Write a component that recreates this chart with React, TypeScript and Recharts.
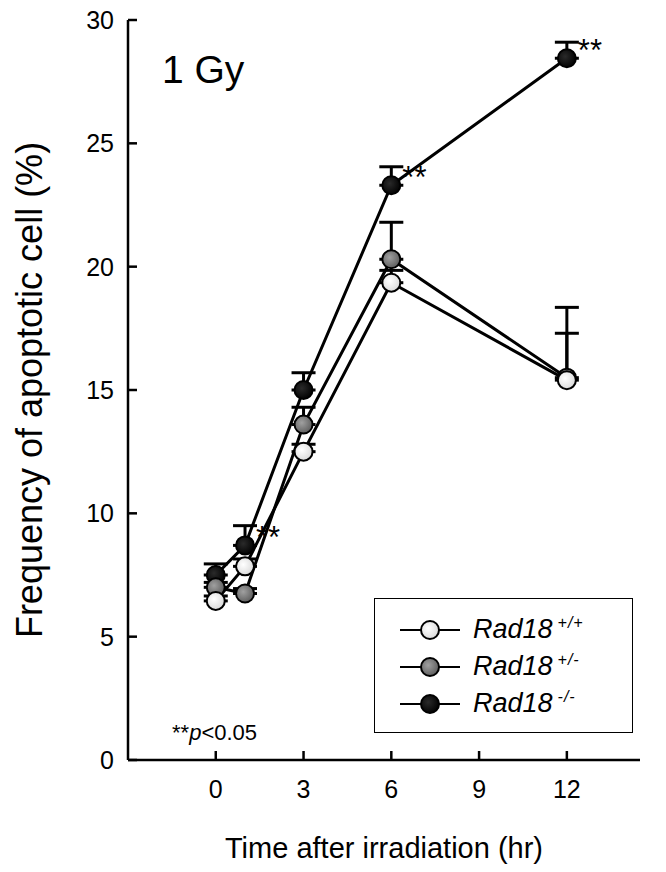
import { LineChart, Line, XAxis, YAxis, ErrorBar, Legend, LabelList } from "recharts";

// hours after 1 Gy irradiation
const hours = [0, 1, 3, 6, 12];
// Rad18 +/+
const wildType = [6.45, 7.85, 12.5, 19.35, 15.4];
const wildTypeErr = [0.2, 0.3, 0.3, 0.5, 1.9];
// Rad18 +/-
const hetero = [7.0, 6.75, 13.6, 20.3, 15.5];
const heteroErr = [0.2, 0.2, 0.7, 1.5, 2.85];
// Rad18 -/-
const knockout = [7.5, 8.7, 15.0, 23.3, 28.45];
const knockoutErr = [0.45, 0.8, 0.7, 0.75, 0.65];
const significant = [false, true, false, true, true];

const xTicks = [0, 3, 6, 9, 12];
const yTicks = [0, 5, 10, 15, 20, 25, 30];

const genotypes = ["+/+", "+/-", "-/-"];
const fills = ["url(#gWhite)", "url(#gGray)", "url(#gBlack)"];

const data = hours.map((h, i) => ({
  hr: h,
  wt: wildType[i],
  wtErr: [0, wildTypeErr[i]],
  het: hetero[i],
  hetErr: [0, heteroErr[i]],
  ko: knockout[i],
  koErr: [0, knockoutErr[i]],
  sig: significant[i] ? "**" : "",
}));

const FONT = "'Liberation Sans', Arial, sans-serif";
const W = 666;
const H = 872;
const MARGIN = { top: 20, right: 26, left: 0, bottom: 0 };

const Stars = (props: any) => {
  const { x, y, value } = props;
  if (!value) return null;
  return (
    <text x={x + 11} y={y + 3} fontSize={31} fontFamily={FONT} fill="#000">
      {value}
    </text>
  );
};

const LegendBox = () => (
  <div
    style={{
      border: "1.5px solid #000",
      background: "#fff",
      boxSizing: "border-box",
      width: 259,
      height: 135,
      paddingTop: 12,
      fontFamily: FONT,
    }}
  >
    {genotypes.map((g, i) => (
      <div key={g} style={{ height: 37, display: "flex", alignItems: "center" }}>
        <svg width={62} height={24} style={{ marginLeft: 24 }}>
          <line x1={1} y1={12} x2={61} y2={12} stroke="#000" strokeWidth={2} />
          <circle cx={31} cy={12} r={9} fill={fills[i]} stroke="#000" strokeWidth={2} />
        </svg>
        <span style={{ marginLeft: 12, fontSize: 27, fontStyle: "italic" }}>
          Rad18
          <sup style={{ fontSize: 16, marginLeft: 5, letterSpacing: 1 }}>{g}</sup>
        </span>
      </div>
    ))}
  </div>
);

// same axes in both layers, so the marker layer lines up with the line layer
const axes = (visible: boolean) => [
  <XAxis
    key="x"
    dataKey="hr"
    type="number"
    domain={[-3, 14.5]}
    ticks={xTicks}
    height={112}
    stroke="#000"
    strokeWidth={2.5}
    axisLine={visible}
    tickLine={visible}
    tickSize={-9}
    tickMargin={29}
    tick={visible ? { fill: "#000", fontSize: 25, fontFamily: FONT } : false}
  />,
  <YAxis
    key="y"
    type="number"
    domain={[0, 30]}
    ticks={yTicks}
    width={128}
    stroke="#000"
    strokeWidth={2.5}
    axisLine={visible}
    tickLine={visible}
    tickSize={-9}
    tickMargin={23}
    tick={visible ? { fill: "#000", fontSize: 25, fontFamily: FONT } : false}
  />,
];

export default function App() {
  return (
    <div style={{ position: "absolute", left: 0, top: 0, width: W, height: H, background: "#fff" }}>
      {/* bottom layer: axes, connecting lines, whiskers, legend */}
      <LineChart width={W} height={H} data={data} margin={MARGIN}>
        <defs>
          <radialGradient id="gWhite" cx="40%" cy="40%" r="65%">
            <stop offset="0%" stopColor="#ffffff" />
            <stop offset="100%" stopColor="#d8d8d8" />
          </radialGradient>
          <radialGradient id="gGray" cx="40%" cy="40%" r="65%">
            <stop offset="0%" stopColor="#a0a0a0" />
            <stop offset="100%" stopColor="#5a5a5a" />
          </radialGradient>
          <radialGradient id="gBlack" cx="40%" cy="40%" r="65%">
            <stop offset="0%" stopColor="#2a2a2a" />
            <stop offset="100%" stopColor="#000000" />
          </radialGradient>
        </defs>
        {axes(true)}
        <Legend
          layout="horizontal"
          verticalAlign="middle"
          align="center"
          content={LegendBox}
          wrapperStyle={{ left: 374, top: 598, width: 259, height: 135 }}
        />
        <Line dataKey="ko" stroke="#000" strokeWidth={3} dot={false} activeDot={false} isAnimationActive={false}>
          <ErrorBar dataKey="koErr" direction="y" width={12} stroke="#000" strokeWidth={3} />
        </Line>
        <Line dataKey="het" stroke="#000" strokeWidth={3} dot={false} activeDot={false} isAnimationActive={false}>
          <ErrorBar dataKey="hetErr" direction="y" width={12} stroke="#000" strokeWidth={3} />
        </Line>
        <Line dataKey="wt" stroke="#000" strokeWidth={3} dot={false} activeDot={false} isAnimationActive={false}>
          <ErrorBar dataKey="wtErr" direction="y" width={12} stroke="#000" strokeWidth={3} />
        </Line>
      </LineChart>

      {/* top layer: markers and significance stars */}
      <div style={{ position: "absolute", left: 0, top: 0, pointerEvents: "none" }}>
        <LineChart width={W} height={H} data={data} margin={MARGIN}>
          {axes(false)}
          <Line
            dataKey="ko"
            stroke="none"
            isAnimationActive={false}
            dot={{ r: 9, fill: "url(#gBlack)", stroke: "#000", strokeWidth: 2 }}
          >
            <LabelList dataKey="sig" content={Stars} />
          </Line>
          <Line
            dataKey="het"
            stroke="none"
            isAnimationActive={false}
            dot={{ r: 9, fill: "url(#gGray)", stroke: "#000", strokeWidth: 2 }}
          />
          <Line
            dataKey="wt"
            stroke="none"
            isAnimationActive={false}
            dot={{ r: 9, fill: "url(#gWhite)", stroke: "#000", strokeWidth: 2 }}
          />
        </LineChart>
      </div>

      <svg
        width={W}
        height={H}
        style={{ position: "absolute", left: 0, top: 0, pointerEvents: "none" }}
        fontFamily={FONT}
      >
        <text x={162} y={83} fontSize={39}>1 Gy</text>
        <text
          x={29}
          y={390}
          fontSize={36}
          textAnchor="middle"
          dominantBaseline="central"
          transform="rotate(-90 29 390)"
        >
          Frequency of apoptotic cell (%)
        </text>
        <text x={384} y={858} fontSize={29} textAnchor="middle">
          Time after irradiation (hr)
        </text>
        <text x={172} y={740} fontSize={22}>
          **<tspan fontStyle="italic">p</tspan>&lt;0.05
        </text>
      </svg>
    </div>
  );
}
